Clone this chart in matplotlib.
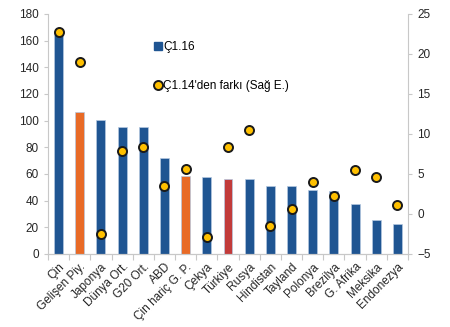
import matplotlib
matplotlib.use("Agg")
import matplotlib.pyplot as plt
from matplotlib.lines import Line2D
import numpy as np

plt.rcParams['font.family'] = ['Liberation Sans', 'DejaVu Sans']

categories = ["Çin", "Gelişen Piy.", "Japonya", "Dünya Ort.", "G20 Ort.", "ABD",
              "Çin hariç G. P.", "Çekya", "Türkiye", "Rusya", "Hindistan", "Tayland",
              "Polonya", "Brezilya", "G. Afrika", "Meksika", "Endonezya"]
q1_16 = [166.5, 106.5, 100.5, 95.5, 95.5, 71.8, 58.5, 57.8, 56.2, 56.0, 51.0, 51.0,
         47.8, 47.0, 37.3, 25.5, 22.3]
diff_q1_14 = [22.75, 18.95, -2.55, 7.9, 8.4, 3.55, 5.6, -2.85, 8.4, 10.45, -1.45, 0.65,
              3.95, 2.25, 5.45, 4.6, 1.1]

blue = "#1F5592"
orange = "#E86A26"
red = "#C23B3A"
colors = [blue] * len(categories)
colors[1] = orange
colors[6] = orange
colors[8] = red

fig = plt.figure(figsize=(4.5, 3.27), dpi=100)
ax = fig.add_axes([48/450, 1 - 254/327, 360/450, 240/327])
x = np.arange(len(categories))
ax.bar(x, q1_16, width=0.42, color=colors, edgecolor="#B4C8E0", linewidth=0.5, zorder=2)
ax.set_xlim(-0.5, len(categories) - 0.5)
ax.set_ylim(0, 180)
ax.set_yticks(np.arange(0, 181, 20))

ax2 = ax.twinx()
ax2.plot(x, diff_q1_14, linestyle="none", marker="o", markersize=6.5,
         markerfacecolor="#FFC000", markeredgecolor="#1A1A1A", markeredgewidth=1.4, zorder=3)
ax2.set_ylim(-5, 25)
ax2.set_yticks(np.arange(-5, 26, 5))

spine_col = "#C8C8C8"
for a in (ax, ax2):
    a.spines["top"].set_visible(False)
    for s in ("left", "right", "bottom"):
        a.spines[s].set_color(spine_col)
        a.spines[s].set_linewidth(0.8)
    a.tick_params(colors=spine_col, labelcolor="#262626", labelsize=8.5, length=3, width=0.8)
ax.spines["right"].set_visible(False)
ax2.spines["left"].set_visible(False)

ax.set_xticks(x)
ax.set_xticklabels(categories, rotation=45, ha="right", rotation_mode="anchor", fontsize=8.5)
ax.tick_params(axis="x", length=0, pad=5)
ax.set_xticks(np.arange(-0.5, len(categories), 1), minor=True)
ax.tick_params(axis="x", which="minor", length=4, color=spine_col, width=0.8)

ax2.set_zorder(ax.get_zorder() + 1)
ax2.patch.set_visible(False)

handles = [
    Line2D([], [], linestyle="none", marker="s", markersize=5.5, markerfacecolor=blue,
           markeredgecolor=blue),
    Line2D([], [], linestyle="none", marker="o", markersize=6.5, markerfacecolor="#FFC000",
           markeredgecolor="#1A1A1A", markeredgewidth=1.4),
]
leg = ax2.legend(handles, ["Ç1.16", "Ç1.14'den farkı (Sağ E.)"], loc="upper left",
                 bbox_to_anchor=(0.265, 0.93), frameon=False, fontsize=8.5,
                 handlelength=0.6, handletextpad=0.2, labelspacing=2.25)

fig.savefig("out.png", dpi=100)
